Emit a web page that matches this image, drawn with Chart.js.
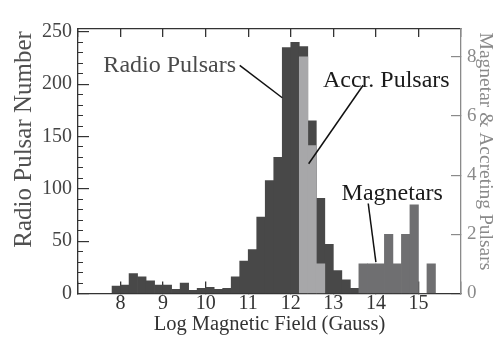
<!DOCTYPE html>
<html><head><meta charset="utf-8">
<script src="https://cdn.jsdelivr.net/npm/chart.js@4/dist/chart.umd.min.js"></script>
<style>html,body{margin:0;padding:0;background:#fff;}#wrap{width:500px;height:338px;position:relative;}canvas{display:block;}</style>
</head><body><div id="wrap"><canvas id="c" width="500" height="338" style="width:500px;height:338px"></canvas></div>
<script>
// ---- data ----
const binWidth = 0.2;
const radioBinStarts = [7.8,8.0,8.2,8.4,8.6,8.8,9.0,9.2,9.4,9.6,9.8,10.0,10.2,10.4,10.6,10.8,11.0,11.2,11.4,11.6,11.8,12.0,12.2,12.4,12.6,12.8,13.0,13.2,13.4];
const radioCounts = [7,8,19,16,12,8,8,4,10,3,5,6,4,5,16,31,42,73,108,130,235,240,236,165,91,47,22,13,5];
const accretingBinStarts = [12.2,12.4,12.6];
const accretingCounts = [8,5,1];
const magnetarBinStarts = [13.6,13.8,14.0,14.2,14.4,14.6,14.8,15.0,15.2];
const magnetarCounts = [1,1,1,2,1,2,3,0,1];
const xTickValues = [8,9,10,11,12,13,14,15];
const leftTickStep = 50, leftMinorStep = 10, rightTickStep = 2;

const SERIF = "'Liberation Serif','Times New Roman',serif";
const center = s => Math.round((s + binWidth / 2) * 10) / 10;
const toPoints = (starts, counts) => starts.map((s, i) => ({x: center(s), y: counts[i]}));

const annotate = {
  id: 'annotate',
  afterDraw(chart, args, o) {
    const {ctx} = chart;
    const sx = chart.scales.x, sy = chart.scales.y;
    ctx.save();
    o.lines.forEach(l => {
      ctx.beginPath();
      ctx.moveTo(sx.getPixelForValue(l.from[0]), sy.getPixelForValue(l.from[1]));
      ctx.lineTo(sx.getPixelForValue(l.to[0]), sy.getPixelForValue(l.to[1]));
      ctx.strokeStyle = '#111'; ctx.lineWidth = 1.5; ctx.stroke();
    });
    o.texts.forEach(t => {
      ctx.font = t.size + 'px ' + SERIF;
      ctx.fillStyle = t.color; ctx.textAlign = 'center'; ctx.textBaseline = 'alphabetic';
      ctx.fillText(t.text, sx.getPixelForValue(t.x), sy.getPixelForValue(t.y));
    });
    o.titles.forEach(t => {
      ctx.save();
      const px = t.side === 'left' ? chart.scales.y.left + t.dx : chart.scales.y2.left + t.dx;
      ctx.translate(px, sy.getPixelForValue(t.y));
      ctx.rotate(t.side === 'left' ? -Math.PI / 2 : Math.PI / 2);
      ctx.font = t.size + 'px ' + SERIF;
      ctx.fillStyle = t.color; ctx.textAlign = 'center'; ctx.textBaseline = 'middle';
      ctx.fillText(t.text, 0, 0);
      ctx.restore();
    });
    ctx.restore();
  }
};

new Chart(document.getElementById('c'), {
  type: 'bar',
  data: {
    datasets: [
      {label: 'Accr. Pulsars', data: toPoints(accretingBinStarts, accretingCounts), yAxisID: 'y2', backgroundColor: '#a7a7a9'},
      {label: 'Magnetars', data: toPoints(magnetarBinStarts, magnetarCounts), yAxisID: 'y2', backgroundColor: '#6f6f71'},
      {label: 'Radio Pulsars', data: toPoints(radioBinStarts, radioCounts), yAxisID: 'y', backgroundColor: '#484848'}
    ]
  },
  options: {
    responsive: false,
    animation: false,
    devicePixelRatio: 1,
    layout: {padding: {top: 9.5, left: 0, right: 0, bottom: 0}},
    datasets: {bar: {grouped: false, barPercentage: 1, categoryPercentage: 1, borderWidth: 0}},
    plugins: {
      legend: {display: false}, tooltip: {enabled: false},
      annotate: {
        lines: [
          {from: [10.80, 218], to: [11.80, 187]},
          {from: [13.70, 199], to: [12.42, 124]},
          {from: [13.82, 86], to: [14.00, 30]}
        ],
        texts: [
          {text: 'Radio Pulsars', x: 9.155, y: 211.8, size: 24, color: '#4a4a4a'},
          {text: 'Accr. Pulsars', x: 14.245, y: 197.3, size: 24, color: '#1a1a1a'},
          {text: 'Magnetars', x: 14.385, y: 89.1, size: 24, color: '#1a1a1a'}
        ],
        titles: [
          {text: 'Radio Pulsar Number', side: 'left', dx: 24, y: 147.2, size: 25, color: '#505050'},
          {text: 'Magnetar & Accreting Pulsars', side: 'right', dx: 24, y: 135.7, size: 19.5, color: '#8a8a8a'}
        ]
      }
    },
    scales: {
      x: {
        type: 'linear', position: 'bottom', min: 7, max: 16, offset: false,
        grid: {offset: false, drawOnChartArea: false, tickLength: -12, color: '#333', lineWidth: 1.3},
        border: {display: true, color: '#333', width: 1.3},
        ticks: {stepSize: 1, padding: 10.5, maxRotation: 0, autoSkip: false, color: '#333',
          font: {family: SERIF, size: 20},
          callback: v => xTickValues.includes(v) ? String(v) : ''},
        title: {display: true, text: 'Log Magnetic Field (Gauss)', color: '#333', font: {family: SERIF, size: 20.5}, padding: {top: 0, bottom: 1}},
        afterFit: s => { s.height = 44.5; }
      },
      xTop: {
        type: 'linear', position: 'top', min: 7, max: 16, offset: false,
        grid: {offset: false, drawOnChartArea: false, tickLength: -8, color: '#333', lineWidth: 1.3},
        border: {display: true, color: '#333', width: 1.3},
        ticks: {stepSize: 1, display: false},
        afterFit: s => { s.height = 0; }
      },
      y: {
        type: 'linear', position: 'left', min: 0, max: 252.7, weight: 1,
        grid: {drawOnChartArea: false, tickLength: -11, color: '#333', lineWidth: 1.2},
        border: {display: true, color: '#333', width: 1.3},
        ticks: {stepSize: leftTickStep, includeBounds: false, padding: 17, color: '#444', font: {family: SERIF, size: 20}},
        afterFit: s => { s.width = 78; }
      },
      yMinor: {
        type: 'linear', position: 'left', min: 0, max: 252.7, weight: 0,
        grid: {drawOnChartArea: false, tickLength: -5, color: '#333', lineWidth: 1},
        border: {display: false},
        ticks: {stepSize: leftMinorStep, includeBounds: false, display: false},
        afterFit: s => { s.width = 0; }
      },
      y2: {
        type: 'linear', position: 'right', min: 0, max: 8.94,
        grid: {drawOnChartArea: false, tickLength: -10, color: '#8a8a8a', lineWidth: 1.2},
        border: {display: true, color: '#8a8a8a', width: 1.3},
        ticks: {stepSize: rightTickStep, includeBounds: false, padding: 16, color: '#8a8a8a', font: {family: SERIF, size: 19}},
        afterFit: s => { s.width = 39; }
      }
    }
  },
  plugins: [annotate]
});
</script>
</body></html>
